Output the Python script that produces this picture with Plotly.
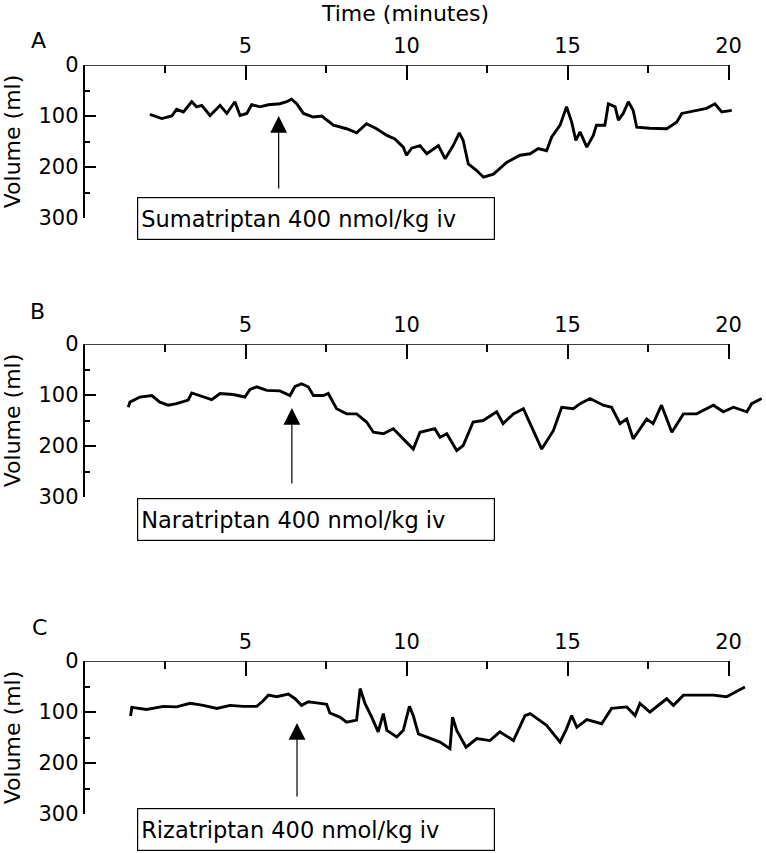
import plotly.graph_objects as go

# ---------------- data ----------------
a_time = [2.03, 2.4, 2.71, 2.86, 3.07, 3.33, 3.48, 3.64, 3.9, 4.21, 4.42, 4.67, 4.83, 5.04, 5.19,
          5.45, 5.71, 6.07, 6.28, 6.43, 6.59, 6.8, 7.1, 7.37, 7.73, 8.14, 8.45, 8.76, 9.07, 9.39,
          9.64, 9.9, 10.0, 10.16, 10.42, 10.63, 10.99, 11.2, 11.45, 11.64, 11.76, 11.92, 12.18,
          12.39, 12.7, 13.11, 13.53, 13.84, 14.09, 14.35, 14.51, 14.77, 14.97, 15.13, 15.26, 15.39,
          15.6, 15.8, 15.9, 16.16, 16.27, 16.48, 16.58, 16.73, 16.89, 17.04, 17.15, 17.56, 18.08,
          18.39, 18.55, 19.01, 19.32, 19.58, 19.79, 20.1]
a_volume = [97, 105, 100, 87, 92, 72, 82, 79, 99, 79, 95, 72, 99, 95, 78,
            82, 78, 76, 72, 67, 76, 95, 102, 100, 118, 125, 133, 115, 125, 138,
            145, 161, 177, 163, 158, 174, 158, 184, 158, 133, 148, 194, 207,
            220, 214, 191, 177, 174, 164, 168, 141, 118, 82, 112, 148, 131,
            161, 138, 118, 118, 76, 82, 108, 95, 72, 89, 122, 124, 125,
            112, 95, 89, 85, 76, 92, 89]

b_time = [1.36, 1.41, 1.72, 2.09, 2.34, 2.6, 2.86, 3.22, 3.33, 3.59, 3.95, 4.21, 4.62, 4.98,
          5.14, 5.35, 5.66, 6.07, 6.38, 6.54, 6.74, 6.95, 7.11, 7.42, 7.57, 7.83, 8.14, 8.45,
          8.76, 8.97, 9.28, 9.59, 9.8, 10.21, 10.42, 10.88, 11.04, 11.25, 11.56, 11.76, 12.07,
          12.38, 12.8, 13.0, 13.32, 13.63, 13.84, 14.2, 14.56, 14.82, 15.18, 15.39, 15.7, 16.11,
          16.37, 16.63, 16.84, 17.04, 17.46, 17.66, 17.92, 18.24, 18.6, 19.01, 19.53, 19.84,
          20.15, 20.57, 20.72, 21.03]
b_volume = [124, 114, 104, 101, 114, 120, 117, 110, 96, 101, 109, 97, 99, 104,
            89, 84, 91, 92, 101, 83, 78, 84, 101, 101, 97, 127, 137, 137,
            153, 173, 176, 166, 179, 206, 173, 166, 183, 176, 209, 199, 153,
            150, 133, 156, 137, 127, 156, 206, 170, 124, 127, 117, 107, 120,
            124, 156, 147, 186, 147, 156, 120, 173, 137, 137, 120, 133,
            124, 133, 117, 107]

c_time = [1.43, 1.47, 1.93, 2.45, 2.86, 3.28, 3.69, 4.11, 4.52, 4.93, 5.35, 5.55, 5.71, 5.97,
          6.33, 6.54, 6.74, 6.95, 7.21, 7.52, 7.62, 7.93, 8.14, 8.45, 8.56, 8.71, 8.92, 9.12,
          9.28, 9.39, 9.7, 9.9, 10.09, 10.21, 10.37, 10.73, 11.04, 11.35, 11.43, 11.56, 11.85,
          12.18, 12.59, 12.9, 13.32, 13.68, 13.84, 14.35, 14.77, 14.97, 15.13, 15.29, 15.6,
          16.06, 16.37, 16.84, 17.1, 17.25, 17.56, 18.08, 18.29, 18.6, 19.01, 19.53, 19.94,
          20.25, 20.51]
c_volume = [108, 91, 95, 89, 90, 83, 87, 93, 87, 89, 89, 78, 67, 70,
            65, 74, 87, 80, 82, 85, 102, 110, 120, 116, 54, 83, 110, 139,
            103, 136, 149, 136, 89, 107, 143, 152, 159, 172, 110, 136, 169,
            152, 156, 139, 156, 107, 103, 126, 159, 133, 107, 130, 115,
            123, 93, 90, 107, 83, 100, 74, 87, 67, 67, 67, 70,
            60, 51]

panel_letters = ["A", "B", "C"]
drug_labels = ["Sumatriptan 400 nmol/kg iv", "Naratriptan 400 nmol/kg iv", "Rizatriptan 400 nmol/kg iv"]
dose_times = [6.03, 6.44, 6.6]
x_tick_vals = [5, 10, 15, 20]
x_minor_vals = [2.5, 7.5, 12.5, 17.5]
y_tick_vals = [0, 100, 200, 300]
y_minor_vals = [50, 150, 250]

# ---------------- layout ----------------
W, H = 766, 853
FONT = "DejaVu Sans"
x_left_px = 84.5
px_per_min = 32.2
x_max = (W - x_left_px) / px_per_min
panel_px = [(65, 218), (344, 497), (661, 814)]      # top (0 ml) / bottom (300 ml)
arrow_px = [(116, 190), (408, 485), (723, 798)]     # tip / tail
box_px = [(197, 240), (498, 542), (808, 852)]
letter_px = [(38, 41), (37, 311), (39, 627)]

fig = go.Figure()
series = [(a_time, a_volume), (b_time, b_volume), (c_time, c_volume)]

for i, (t, v) in enumerate(series):
    n = "" if i == 0 else str(i + 1)
    fig.add_trace(go.Scatter(x=t, y=v, mode="lines", xaxis="x" + n, yaxis="y" + n,
                             line=dict(color="black", width=2.9), showlegend=False,
                             hoverinfo="skip"))
    top, bot = panel_px[i]
    fig.update_layout(**{
        "xaxis" + n: dict(domain=[x_left_px / W, 1], range=[0, x_max], side="top",
                          anchor="y" + n, tickvals=x_tick_vals, ticks="inside", ticklen=15,
                          tickwidth=1.5, tickcolor="black", showline=False, showgrid=False,
                          zeroline=False, automargin=False, ticklabelstandoff=7,
                          tickfont=dict(family=FONT, size=21, color="black"),
                          minor=dict(tickvals=x_minor_vals, ticks="inside", ticklen=8,
                                     tickwidth=1.5, tickcolor="black", showgrid=False)),
        "yaxis" + n: dict(domain=[1 - bot / H, 1 - top / H], range=[300, 0],
                          anchor="x" + n, tickvals=y_tick_vals, ticks="inside", ticklen=12,
                          tickwidth=1.5, tickcolor="black", showline=True, linewidth=1.5,
                          linecolor="black", showgrid=False, zeroline=False, automargin=False,
                          tickfont=dict(family=FONT, size=21, color="black"),
                          title=dict(text="Volume (ml)", standoff=14,
                                     font=dict(family=FONT, size=22, color="black")),
                          minor=dict(tickvals=y_minor_vals, ticks="inside", ticklen=6,
                                     tickwidth=1.5, tickcolor="black", showgrid=False)),
    })
    # top axis line spanning 0..20 min
    fig.add_shape(type="line", xref="x" + n, yref="y" + n, x0=0, x1=20, y0=0, y1=0,
                  line=dict(color="black", width=1.5))
    # dose arrow
    tip, tail = arrow_px[i]
    fig.add_annotation(xref="x" + n, yref="paper", x=dose_times[i], y=1 - tip / H,
                       ax=0, ay=tail - tip, text="", showarrow=True, arrowhead=2,
                       arrowsize=2.8, arrowwidth=1.2, arrowcolor="black")
    # label box
    b0, b1 = box_px[i]
    fig.add_annotation(xref="paper", yref="paper", x=137 / W, y=1 - b0 / H,
                       xanchor="left", yanchor="top", text=drug_labels[i], showarrow=False,
                       align="left", width=350, height=35, borderpad=3, bordercolor="black",
                       borderwidth=1.2, font=dict(family=FONT, size=22.5, color="black"))
    # panel letter
    lx, ly = letter_px[i]
    fig.add_annotation(xref="paper", yref="paper", x=lx / W, y=1 - ly / H, text=panel_letters[i],
                       xanchor="center", yanchor="middle", showarrow=False,
                       font=dict(family=FONT, size=22, color="black"))

fig.add_annotation(xref="paper", yref="paper", x=405 / W, y=1 - 13 / H, text="Time (minutes)",
                   xanchor="center", yanchor="middle", showarrow=False,
                   font=dict(family=FONT, size=22, color="black"))

fig.update_layout(width=W, height=H, margin=dict(l=0, r=0, t=0, b=0, autoexpand=False),
                  plot_bgcolor="white", paper_bgcolor="white")

fig.write_html("out.html", config={"displayModeBar": False},
               post_script="document.body.style.margin='0px';")
